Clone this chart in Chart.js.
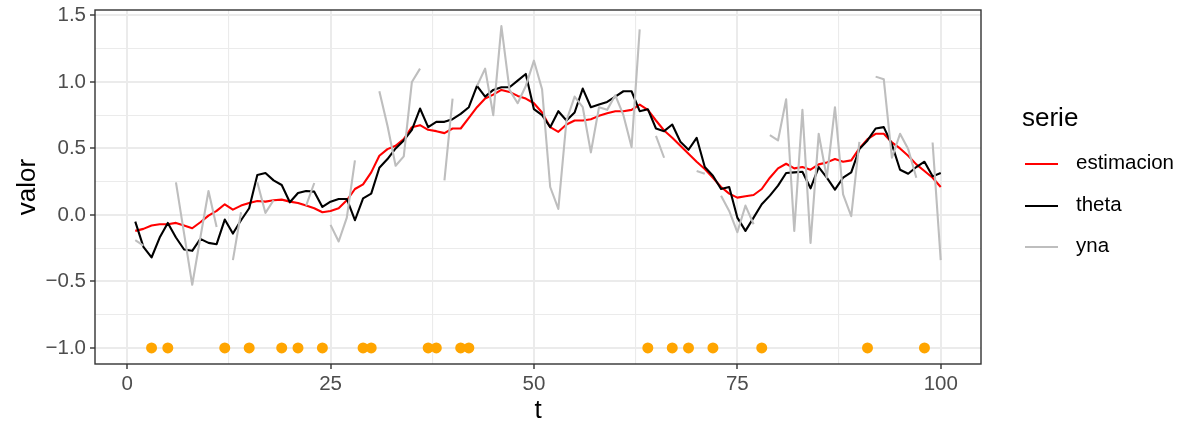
<!DOCTYPE html>
<html>
<head>
<meta charset="utf-8">
<script src="https://cdn.jsdelivr.net/npm/chart.js@4.4.0/dist/chart.umd.min.js"></script>
<style>
  html, body { margin: 0; padding: 0; background: #fff; }
  #wrap { position: relative; width: 1183px; height: 426px; overflow: hidden; }
  #chart { position: absolute; left: 0; top: 0; }
  .lg { position: absolute; font-family: "Liberation Sans", Arial, sans-serif; color: #000; white-space: nowrap; }
  .lg-title { font-size: 26px; line-height: 26px; }
  .lg-lbl { font-size: 20.5px; line-height: 20.5px; }
  .lg-key { position: absolute; width: 33px; height: 2px; }
</style>
</head>
<body>
<div id="wrap">
  <canvas id="chart" width="1183" height="426"></canvas>
  <div class="lg lg-title" style="left:1022px;top:104px;">serie</div>
  <div class="lg-key" style="left:1025px;top:163px;background:#FF0000;"></div>
  <div class="lg lg-lbl" style="left:1076px;top:152px;">estimacion</div>
  <div class="lg-key" style="left:1025px;top:205px;background:#000000;"></div>
  <div class="lg lg-lbl" style="left:1076px;top:194px;">theta</div>
  <div class="lg-key" style="left:1025px;top:246px;background:#BEBEBE;"></div>
  <div class="lg lg-lbl" style="left:1076px;top:235px;">yna</div>
</div>
<script>
/* ---------- DATA ---------- */
const tVals = [
  1,2,3,4,5,6,7,8,9,10,11,12,13,14,15,16,17,18,19,20,
  21,22,23,24,25,26,27,28,29,30,31,32,33,34,35,36,37,38,39,40,
  41,42,43,44,45,46,47,48,49,50,51,52,53,54,55,56,57,58,59,60,
  61,62,63,64,65,66,67,68,69,70,71,72,73,74,75,76,77,78,79,80,
  81,82,83,84,85,86,87,88,89,90,91,92,93,94,95,96,97,98,99,100
];

const estimacion = [
  -0.12,-0.105,-0.08,-0.07,-0.07,-0.06,-0.08,-0.10,-0.055,-0.005,
  0.03,0.08,0.04,0.07,0.09,0.105,0.10,0.11,0.115,0.10,
  0.09,0.07,0.05,0.02,0.03,0.05,0.11,0.195,0.23,0.32,
  0.445,0.495,0.52,0.57,0.66,0.675,0.64,0.63,0.615,0.65,
  0.65,0.73,0.81,0.875,0.905,0.94,0.925,0.895,0.875,0.84,
  0.77,0.66,0.625,0.68,0.71,0.71,0.72,0.745,0.765,0.78,
  0.78,0.79,0.83,0.79,0.71,0.635,0.58,0.52,0.46,0.40,
  0.345,0.28,0.21,0.16,0.13,0.14,0.15,0.195,0.28,0.35,
  0.385,0.35,0.36,0.34,0.38,0.395,0.42,0.40,0.41,0.50,
  0.57,0.61,0.61,0.545,0.50,0.445,0.38,0.33,0.28,0.21
];

const theta = [
  -0.05,-0.24,-0.32,-0.17,-0.06,-0.17,-0.26,-0.27,-0.18,-0.21,
  -0.22,-0.035,-0.14,-0.04,0.05,0.30,0.315,0.26,0.225,0.095,
  0.165,0.18,0.175,0.06,0.10,0.12,0.12,-0.04,0.125,0.16,
  0.355,0.42,0.50,0.56,0.64,0.80,0.66,0.70,0.70,0.72,
  0.76,0.81,0.97,0.89,0.94,0.96,0.96,1.01,1.06,0.795,
  0.75,0.66,0.78,0.71,0.77,0.95,0.81,0.83,0.85,0.89,
  0.93,0.93,0.78,0.795,0.65,0.63,0.68,0.55,0.49,0.58,
  0.36,0.295,0.195,0.21,-0.02,-0.12,-0.02,0.08,0.145,0.22,
  0.315,0.32,0.325,0.20,0.36,0.28,0.19,0.28,0.32,0.495,
  0.56,0.65,0.66,0.53,0.34,0.31,0.36,0.40,0.29,0.315
];

// null = missing observation (NA)
const yna = [
  -0.19,-0.23,null,-0.12,null,0.245,-0.14,-0.525,-0.17,0.18,
  -0.09,null,-0.34,0.02,null,0.245,0.015,0.11,null,0.12,
  null,0.07,0.24,null,-0.075,-0.2,-0.02,0.41,null,null,
  0.93,0.67,0.37,0.44,1.0,1.10,null,null,0.26,0.875,
  null,null,0.97,1.10,0.75,1.42,0.94,0.84,0.97,1.16,
  0.945,0.21,0.045,0.71,0.89,0.81,0.47,0.81,0.79,0.90,
  0.75,0.51,1.395,null,0.595,0.43,null,0.5,null,0.33,
  0.31,null,0.145,0.03,-0.13,0.07,-0.07,null,0.60,0.56,
  0.87,-0.12,0.79,-0.21,0.61,0.28,0.81,0.155,-0.01,0.55,
  null,1.04,1.02,0.43,0.61,0.495,0.28,null,0.545,-0.34
];

const naLevel = -1;

const xTicksMajor = [0, 25, 50, 75, 100];
const xTickLabels = ["0", "25", "50", "75", "100"];
const xTicksMinor = [12.5, 37.5, 62.5, 87.5];
const yTicksMajor = [-1, -0.5, 0, 0.5, 1, 1.5];
const yTickLabels = ["\u22121.0", "\u22120.5", "0.0", "0.5", "1.0", "1.5"];
const yTicksMinor = [-0.75, -0.25, 0.25, 0.75, 1.25];

/* ---------- helpers ---------- */
const FONT = '"Liberation Sans", Arial, sans-serif';
function pts(arr){ return tVals.map((t,i)=>({x:t, y:arr[i]})); }
const naPts = tVals.filter((t,i)=>yna[i]===null).map(t=>({x:t, y:naLevel}));

function setTicks(major, minor){
  return s => { s.ticks = major.concat(minor).sort((a,b)=>a-b).map(v=>({value:v})); };
}

const panelBorder = {
  id: 'panelBorder',
  afterDraw(chart){
    const {ctx, chartArea:a} = chart;
    ctx.save();
    ctx.strokeStyle = '#333333';
    ctx.lineWidth = 1.4;
    ctx.strokeRect(a.left, a.top, a.right - a.left, a.bottom - a.top);
    ctx.restore();
  }
};

/* ---------- chart ---------- */
const ctx = document.getElementById('chart').getContext('2d');
new Chart(ctx, {
  type: 'line',
  data: {
    datasets: [
      {label:'NA', data:naPts, showLine:false, pointRadius:5.5, pointHoverRadius:5.5,
       pointBackgroundColor:'#FFA500', pointBorderWidth:0, order:0},
      {label:'yna', data:pts(yna), borderColor:'#BEBEBE', borderWidth:2.1, pointRadius:0, spanGaps:false, order:1},
      {label:'theta', data:pts(theta), borderColor:'#000000', borderWidth:2.1, pointRadius:0, order:2},
      {label:'estimacion', data:pts(estimacion), borderColor:'#FF0000', borderWidth:2.1, pointRadius:0, order:3}
    ]
  },
  options: {
    responsive: false,
    animation: false,
    devicePixelRatio: 1,
    layout: {padding: {left:0, top:10, right:202, bottom:0}},
    elements: {line: {tension:0, borderJoinStyle:'round', borderCapStyle:'butt', fill:false}},
    plugins: {legend:{display:false}, tooltip:{enabled:false}},
    scales: {
      x: {
        type: 'linear', min: -3.95, max: 104.95,
        afterBuildTicks: setTicks(xTicksMajor, xTicksMinor),
        afterFit: s => { s.height = 62; s.paddingLeft = 0; s.paddingRight = 0; },
        ticks: {
          autoSkip: false, maxRotation: 0, padding: 3,
          color: '#4D4D4D', font: {family: FONT, size: 20.5},
          callback: v => { const i = xTicksMajor.indexOf(v); return i >= 0 ? xTickLabels[i] : ''; }
        },
        grid: {
          color: '#EBEBEB',
          lineWidth: c => xTicksMajor.includes(c.tick && c.tick.value) ? 2 : 1.1,
          tickColor: c => xTicksMajor.includes(c.tick && c.tick.value) ? '#333333' : 'rgba(0,0,0,0)',
          tickWidth: 1.4, tickLength: 5
        },
        border: {display: false},
        title: {display: true, text: 't', color: '#000', font: {family: FONT, size: 26}, padding: {top: 0, bottom: 0}}
      },
      y: {
        type: 'linear', min: -1.121, max: 1.541,
        afterBuildTicks: setTicks(yTicksMajor, yTicksMinor),
        afterFit: s => { s.width = 95; s.paddingTop = 0; s.paddingBottom = 0; },
        ticks: {
          autoSkip: false, padding: 4,
          color: '#4D4D4D', font: {family: FONT, size: 20.5},
          callback: v => { const i = yTicksMajor.indexOf(v); return i >= 0 ? yTickLabels[i] : ''; }
        },
        grid: {
          color: '#EBEBEB',
          lineWidth: c => yTicksMajor.includes(c.tick && c.tick.value) ? 2 : 1.1,
          tickColor: c => yTicksMajor.includes(c.tick && c.tick.value) ? '#333333' : 'rgba(0,0,0,0)',
          tickWidth: 1.4, tickLength: 5
        },
        border: {display: false},
        title: {display: true, text: 'valor', color: '#000', font: {family: FONT, size: 26}, padding: {top: 12, bottom: 0}}
      }
    }
  },
  plugins: [panelBorder]
});
</script>
</body>
</html>
